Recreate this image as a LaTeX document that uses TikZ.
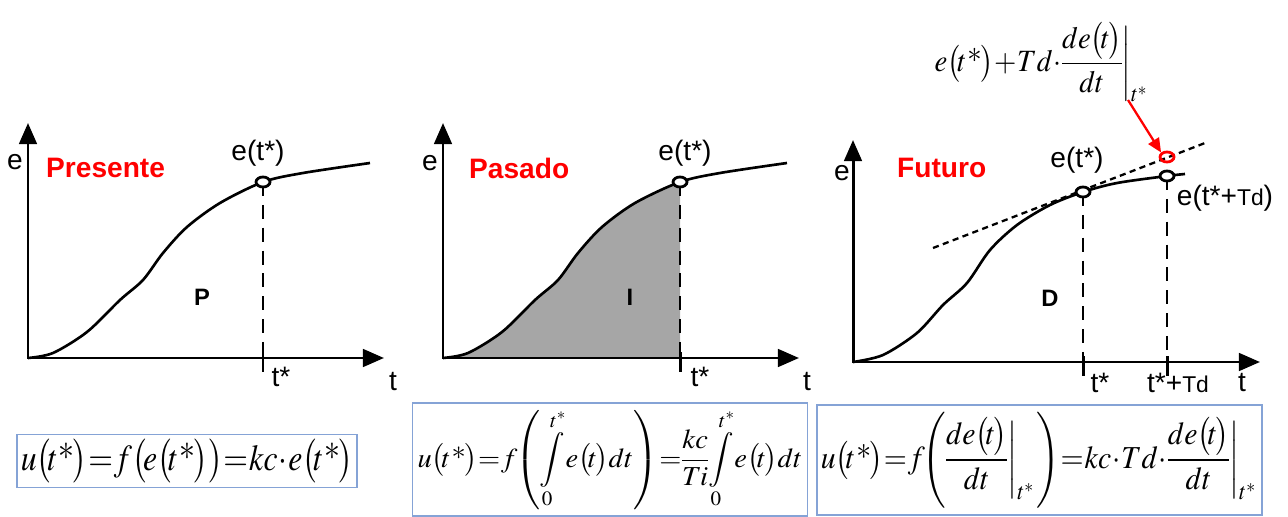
\documentclass[tikz,border=0pt]{standalone}
\usepackage{mathptmx}
\usepackage[no-math]{fontspec}
\newfontfamily\arial{Liberation Sans}
\usepackage{xcolor}
\usepackage{graphicx}
\usetikzlibrary{arrows.meta,shapes.geometric}
\usetikzlibrary{calc,positioning}

\definecolor{boxblue}{RGB}{133,163,214}
\definecolor{areagray}{RGB}{166,166,166}
\newcommand{\bpar}[1]{\bigl(\mkern-2mu#1\mkern-1mu\bigr)}
\newcommand{\tst}{t\,\mbox{*}}
\newcommand{\fitmath}[3]{\resizebox*{#1}{#2}{\thickmuskip=0.5mu\medmuskip=0.5mu\thinmuskip=0.5mu\nulldelimiterspace=0pt$\displaystyle #3$}}

\tikzset{
    axis/.style={line width=1.7pt, {Triangle[length=12pt,width=10pt]}-{Triangle[length=12pt,width=10pt]}},
    curve/.style={line width=1.5pt, line join=round},
    vdash/.style={line width=1.4pt, dash pattern=on 8pt off 5pt},
    tangent/.style={line width=1.3pt, dash pattern=on 3.5pt off 2.5pt},
    tickmark/.style={line width=1.7pt},
    ptmark/.style={ellipse, draw, line width=1.6pt, fill=white, minimum width=0.28cm, minimum height=0.2cm, inner sep=0pt},
    lab/.style={font=\fontsize{16}{18}\arial},
    title/.style={font=\fontsize{16}{18}\arial\bfseries, text=red, anchor=west},
    mode/.style={font=\fontsize{13.5}{16}\arial\bfseries},
    formula/.style={draw=boxblue, line width=0.8pt, inner sep=1pt},
    redarrow/.style={red, line width=1.3pt, -{Triangle[length=8pt,width=7pt]}}
}

\begin{document}
\begin{tikzpicture}[x=0.02cm,y=-0.02cm]
    \useasboundingbox (0,0) rectangle (1288,517);

    % Presente
    \begin{scope}[shift={(28,358)}]
        \coordinate (o1) at (0,0);
        \coordinate (y1) at (0,-235);
        \coordinate (x1) at (356,0);
        \draw[curve] plot[smooth] coordinates {(0,0) (25,-5) (59,-26) (92,-58) (115,-78) (135,-105) (159,-131) (192,-155) (235,-176) (275,-185) (342,-195)};
        \draw[vdash] (235,-176) -- (235,0);
        \draw[tickmark] (235,-6) -- (235,14);
        \draw[axis] (y1) -- (o1) -- (x1);
        \node[ptmark] (q1) at (235,-176) {};
        \node[lab] (e1) at (-13,-196) {e};
        \node[title] (n1) at (12,-190) {Presente};
        \node[lab] (v1) at (230,-205) {e(t*)};
        \node[mode] (m1) at (174,-61) {P};
        \node[lab] (s1) at (253,19) {t*};
        \node[lab] (t1) at (365,24) {t};
    \end{scope}

    % Pasado
    \begin{scope}[shift={(443,358)}]
        \coordinate (o2) at (0,0);
        \coordinate (y2) at (0,-235);
        \coordinate (x2) at (356,0);
        \fill[areagray] plot[smooth] coordinates {(0,0) (25,-5) (59,-26) (92,-58) (115,-78) (135,-105) (159,-131) (192,-155) (237,-176)} -- (237,0) -- cycle;
        \draw[curve] plot[smooth] coordinates {(0,0) (25,-5) (59,-26) (92,-58) (115,-78) (135,-105) (159,-131) (192,-155) (237,-176) (277,-185) (344,-195)};
        \draw[vdash] (237,-176) -- (237,0);
        \draw[tickmark] (237,-6) -- (237,14);
        \draw[axis] (y2) -- (o2) -- (x2);
        \node[ptmark] (q2) at (237,-176) {};
        \node[lab] (e2) at (-13,-195) {e};
        \node[title] (n2) at (20,-190) {Pasado};
        \node[lab] (v2) at (242,-205) {e(t*)};
        \node[mode] (m2) at (187,-61) {I};
        \node[lab] (s2) at (257,19) {t*};
        \node[lab] (t2) at (364,24) {t};
    \end{scope}

    % Futuro
    \begin{scope}[shift={(853,362)}]
        \coordinate (o3) at (0,0);
        \coordinate (y3) at (0,-222);
        \coordinate (x3) at (407,0);
        \coordinate (g1) at (80,-114);
        \coordinate (g2) at (352,-219);
        \draw[curve] plot[smooth] coordinates {(0,0) (30,-7) (64,-29) (90,-57) (114,-79) (137,-112) (164,-137) (197,-157) (230,-170) (264,-179) (314,-186) (332,-188)};
        \draw[tangent] (g1) -- (g2);
        \draw[vdash] (230,-170) -- (230,0);
        \draw[vdash] (314,-186) -- (314,0);
        \draw[tickmark] (230,-6) -- (230,14);
        \draw[tickmark] (314,-6) -- (314,14);
        \draw[axis] (y3) -- (o3) -- (x3);
        \node[ptmark] (q3) at (230,-170) {};
        \node[ptmark] (q4) at (314,-186) {};
        \node[ptmark, draw=red, fill=none] (qr) at (314,-205) {};
        \node[lab] (e3) at (-11,-189) {e};
        \node[title] (n3) at (38,-194) {Futuro};
        \node[lab] (v3) at (224,-202) {e(t*)};
        \node[lab] (v4) at (372,-164) {e(t*+{\fontsize{13}{15}\selectfont Td})};
        \node[mode] (m3) at (197,-64) {D};
        \node[lab] (s3) at (247,21) {t*};
        \node[lab] (s4) at (325,21) {t*+{\fontsize{13}{15}\selectfont Td}};
        \node[lab] (t3) at (389,21) {t};
    \end{scope}

    % prediccion
    \node[inner sep=0pt] (pred) at (1042,62)
        {\fitmath{4.3cm}{1.6cm}{e\bpar{\tst}+Td\cdot\frac{de\bpar{t}}{dt}\bigg|_{t^*}}};
    \coordinate (ra) at (1128,100);
    \draw[redarrow] (ra) -- (qr.north west);

    % leyes de control
    \node[formula, minimum width=6.8cm, minimum height=1.06cm] (f1) at (187,461)
        {\fitmath{6.65cm}{0.88cm}{u\bpar{\tst}=f\bigl(\mkern-2mu e\bpar{\tst}\bigr)=kc\cdot e\bpar{\tst}}};
    \node[formula, minimum width=7.9cm, minimum height=2.26cm] (f2) at (610,459.5)
        {\fitmath{7.7cm}{2.0cm}{u\bpar{\tst}=f\mkern-2mu\left(\int\limits_0^{t^*}\!e\bpar{t}dt\right)=\frac{kc}{Ti}\int\limits_0^{t^*}\!e\bpar{t}dt}};
    \node[formula, minimum width=8.9cm, minimum height=2.2cm] (f3) at (1039.5,460)
        {\fitmath{8.75cm}{1.92cm}{u\bpar{\tst}=f\mkern-2mu\left(\frac{de\bpar{t}}{dt}\bigg|_{t^*}\right)=kc\cdot Td\cdot\frac{de\bpar{t}}{dt}\bigg|_{t^*}}};

\end{tikzpicture}
\end{document}
